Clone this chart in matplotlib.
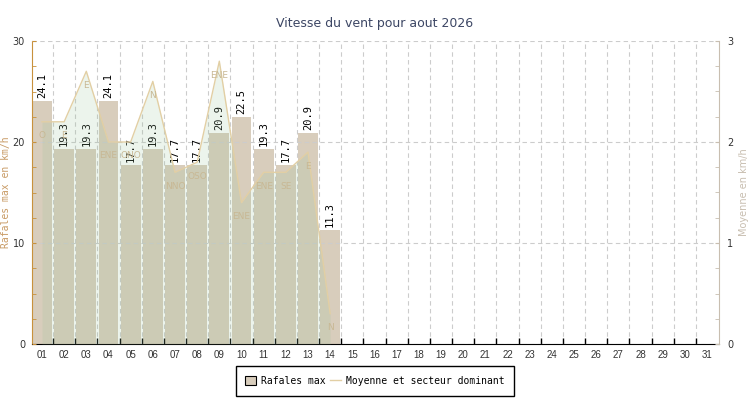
import numpy as np
import matplotlib
matplotlib.use('Agg')
import matplotlib.pyplot as plt
from matplotlib.ticker import FixedLocator, MultipleLocator

# donnees
jours = np.arange(1, 32)
jours_lbl = ['%02d' % j for j in jours]
rafales = [24.1, 19.3, 19.3, 24.1, 17.7, 19.3, 17.7, 17.7, 20.9, 22.5, 19.3, 17.7, 20.9, 11.3]
moyenne = [2.2, 2.2, 2.7, 2.0, 2.0, 2.6, 1.7, 1.8, 2.8, 1.4, 1.7, 1.7, 1.9, 0.3]
secteur = ['O', 'E', 'E', 'ENE', 'ONO', 'N', 'NNO', 'OSO', 'ENE', 'ENE', 'ENE', 'SE', 'E', 'N']
jours_data = jours[:len(rafales)]

mono = 'DejaVu Sans Mono'
c_bar = '#d8cdbc'
c_line = '#e2cfa4'
c_fill = (155 / 255, 197 / 255, 155 / 255)
c_grid = '#cccccc'

fig = plt.figure(figsize=(7.5, 4), dpi=100)
ax = fig.add_axes([32 / 750, 56 / 400, (719 - 32) / 750, 303 / 400])
ax2 = ax.twinx()

bars = ax.bar(jours_data, rafales, width=0.9, color=c_bar, edgecolor='none')
for b, v in zip(bars, rafales):
    ax.annotate('%.1f' % v, (b.get_x() + b.get_width() / 2, v), xytext=(0, 3),
                textcoords='offset pixels', rotation=90, ha='center', va='bottom',
                fontsize=7.5, family=mono, color='black')

ax2.fill_between(jours_data, moyenne, color=c_fill, alpha=0.19, lw=0)
ax2.plot(jours_data, moyenne, color=c_line, lw=1, label='Moyenne et secteur dominant')
for x, m, s in zip(jours_data, moyenne, secteur):
    ax2.annotate(s, (x, m), xytext=(0, -14), textcoords='offset pixels',
                 ha='center', va='center', fontsize=6.5, color='#c8b894')

ax.set_xlim(0.55, 31.54)
ax.set_ylim(0, 30)
ax2.set_ylim(0, 3)

# axe x
ax.xaxis.set_major_locator(FixedLocator(jours))
ax.set_xticklabels(jours_lbl, fontsize=7, family='Liberation Sans', color='#333333')
ax.xaxis.set_minor_locator(FixedLocator(jours[:-1] + 0.5))
ax.tick_params(axis='x', which='major', length=0, pad=4)
ax.tick_params(axis='x', which='minor', length=4, direction='in', color='black', width=1)
ax2.tick_params(axis='x', which='both', length=0)

# axe y gauche
ax.yaxis.set_major_locator(MultipleLocator(10))
ax.yaxis.set_minor_locator(MultipleLocator(2.5))
ax.tick_params(axis='y', which='both', direction='in', color='#c8913c', length=3, labelsize=7,
               labelcolor='#333333', pad=5)
ax.set_ylabel('Rafales max en km/h', family=mono, fontsize=7, color='#c89a64', labelpad=1)

# axe y droit
ax2.yaxis.set_major_locator(MultipleLocator(1))
ax2.yaxis.set_minor_locator(MultipleLocator(0.25))
ax2.tick_params(axis='y', which='both', direction='in', color='#c8beb0', length=3, labelsize=7,
                labelcolor='#333333', pad=6)
ax2.set_ylabel('Moyenne en km/h', fontsize=7, color='#c8beb0', labelpad=4)

for a in (ax, ax2):
    a.spines['top'].set_visible(False)
ax.spines['left'].set_color('#c8913c')
ax2.spines['left'].set_visible(False)
ax.spines['right'].set_visible(False)
ax2.spines['right'].set_color('#c8beb0')
ax.spines['bottom'].set_color('black')
ax2.spines['bottom'].set_visible(False)

# grille au-dessus des barres
ax.set_axisbelow(False)
ax.grid(axis='y', which='major', color=c_grid, ls=(0, (4, 3)), lw=0.8)
ax.grid(axis='x', which='minor', color=c_grid, ls=(0, (4, 3)), lw=0.8)

fig.text(0.5, 0.94, 'Vitesse du vent pour aout 2026', ha='center', va='center',
         fontsize=9, color='#3c4664')

bars.set_label('Rafales max')
h1, l1 = ax.get_legend_handles_labels()
h2, l2 = ax2.get_legend_handles_labels()
leg = fig.legend(h1 + h2, l1 + l2, loc='center', bbox_to_anchor=(0.5, 19 / 400), ncol=2,
                 prop={'family': mono, 'size': 7}, fancybox=False, edgecolor='black',
                 framealpha=1, handlelength=1.1, handleheight=1.1, handletextpad=0.5,
                 columnspacing=0.5, borderpad=1.0, borderaxespad=0)
leg.get_frame().set_linewidth(1)
leg.legend_handles[0].set_edgecolor('black')
leg.legend_handles[0].set_linewidth(0.8)

fig.savefig('out.png', dpi=100)
